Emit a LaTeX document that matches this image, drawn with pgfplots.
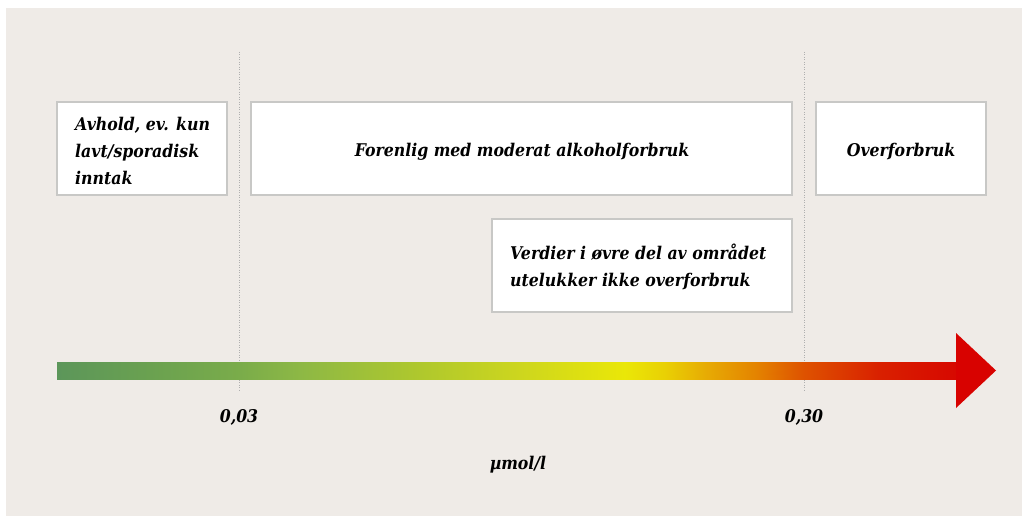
\documentclass[border=0pt]{standalone}
\usepackage{pgfplots}
\pgfplotsset{compat=1.18}
\usepackage{fontspec}
\setmainfont{DejaVu Serif}[FakeStretch=0.9]
\definecolor{bg}{RGB}{239,235,231}
\definecolor{boxline}{RGB}{200,200,198}
\definecolor{dotline}{RGB}{175,175,175}
\definecolor{arrowred}{RGB}{216,2,0}
\pgfplotsset{
  colormap={arrowgrad}{
    rgb255(57pt)=(92,150,90)
    rgb255(150pt)=(106,161,80)
    rgb255(240pt)=(122,172,74)
    rgb255(300pt)=(141,184,69)
    rgb255(420pt)=(175,200,45)
    rgb255(520pt)=(205,214,30)
    rgb255(625pt)=(234,231,8)
    rgb255(665pt)=(233,208,4)
    rgb255(705pt)=(231,172,4)
    rgb255(755pt)=(228,132,0)
    rgb255(804pt)=(222,82,0)
    rgb255(880pt)=(217,32,0)
    rgb255(957pt)=(215,8,0)
  }
}
\newcommand{\lbl}{\fontsize{17.5}{27}\selectfont\bfseries\itshape}
\begin{document}
\begin{tikzpicture}
\begin{axis}[
  hide axis, scale only axis,
  width=1022pt, height=516pt,
  xmin=0, xmax=1022, ymin=0, ymax=516,
  y dir=reverse, clip=false,
]
% page and background
\addplot[fill=white, draw=none] coordinates {(0,0) (1022,0) (1022,516) (0,516)} -- cycle;
\addplot[fill=bg, draw=none] coordinates {(6,8) (1022,8) (1022,516) (6,516)} -- cycle;
% dotted guide lines at 0,03 and 0,30
\addplot[dotline, line width=1pt, dash pattern=on 1pt off 1.5pt] coordinates {(239,52) (239,392)};
\addplot[dotline, line width=1pt, dash pattern=on 1pt off 1.5pt] coordinates {(804,52) (804,392)};
% boxes
\addplot[fill=white, draw=boxline, line width=1.3pt] coordinates {(57,102) (227,102) (227,195) (57,195)} -- cycle;
\addplot[fill=white, draw=boxline, line width=1.3pt] coordinates {(251,102) (792,102) (792,195) (251,195)} -- cycle;
\addplot[fill=white, draw=boxline, line width=1.3pt] coordinates {(816,102) (986,102) (986,195) (816,195)} -- cycle;
\addplot[fill=white, draw=boxline, line width=1.3pt] coordinates {(492,219) (792,219) (792,312) (492,312)} -- cycle;
% gradient arrow shaft
\addplot[surf, shader=interp, colormap name=arrowgrad, mesh/rows=2,
  point meta=explicit, point meta min=57, point meta max=957]
  table[meta index=2] {
x y c
57 362 57
150 362 150
240 362 240
300 362 300
420 362 420
520 362 520
625 362 625
665 362 665
705 362 705
755 362 755
804 362 804
880 362 880
957 362 957

57 379 57
150 379 150
240 379 240
300 379 300
420 379 420
520 379 520
625 379 625
665 379 665
705 379 705
755 379 755
804 379 804
880 379 880
957 379 957
};
% arrow head
\addplot[fill=arrowred, draw=none] coordinates {(956,333) (996,370.5) (956,408)} -- cycle;
% texts
\node[anchor=west, align=left, font=\lbl, inner sep=0pt] at (axis cs:75,151) {Avhold, ev. kun\\lavt/sporadisk\\inntak};
\node[font=\lbl, inner sep=0pt] at (axis cs:522,152) {Forenlig med moderat alkoholforbruk};
\node[font=\lbl, inner sep=0pt] at (axis cs:901,152) {Overforbruk};
\node[anchor=west, align=left, font=\lbl, inner sep=0pt] at (axis cs:510,267) {Verdier i øvre del av området\\utelukker ikke overforbruk};
\node[font=\lbl, inner sep=0pt] at (axis cs:239,417) {0,03};
\node[font=\lbl, inner sep=0pt] at (axis cs:804,417) {0,30};
\node[font=\lbl, inner sep=0pt] at (axis cs:518,465) {µmol/l};
\end{axis}
\end{tikzpicture}
\end{document}
